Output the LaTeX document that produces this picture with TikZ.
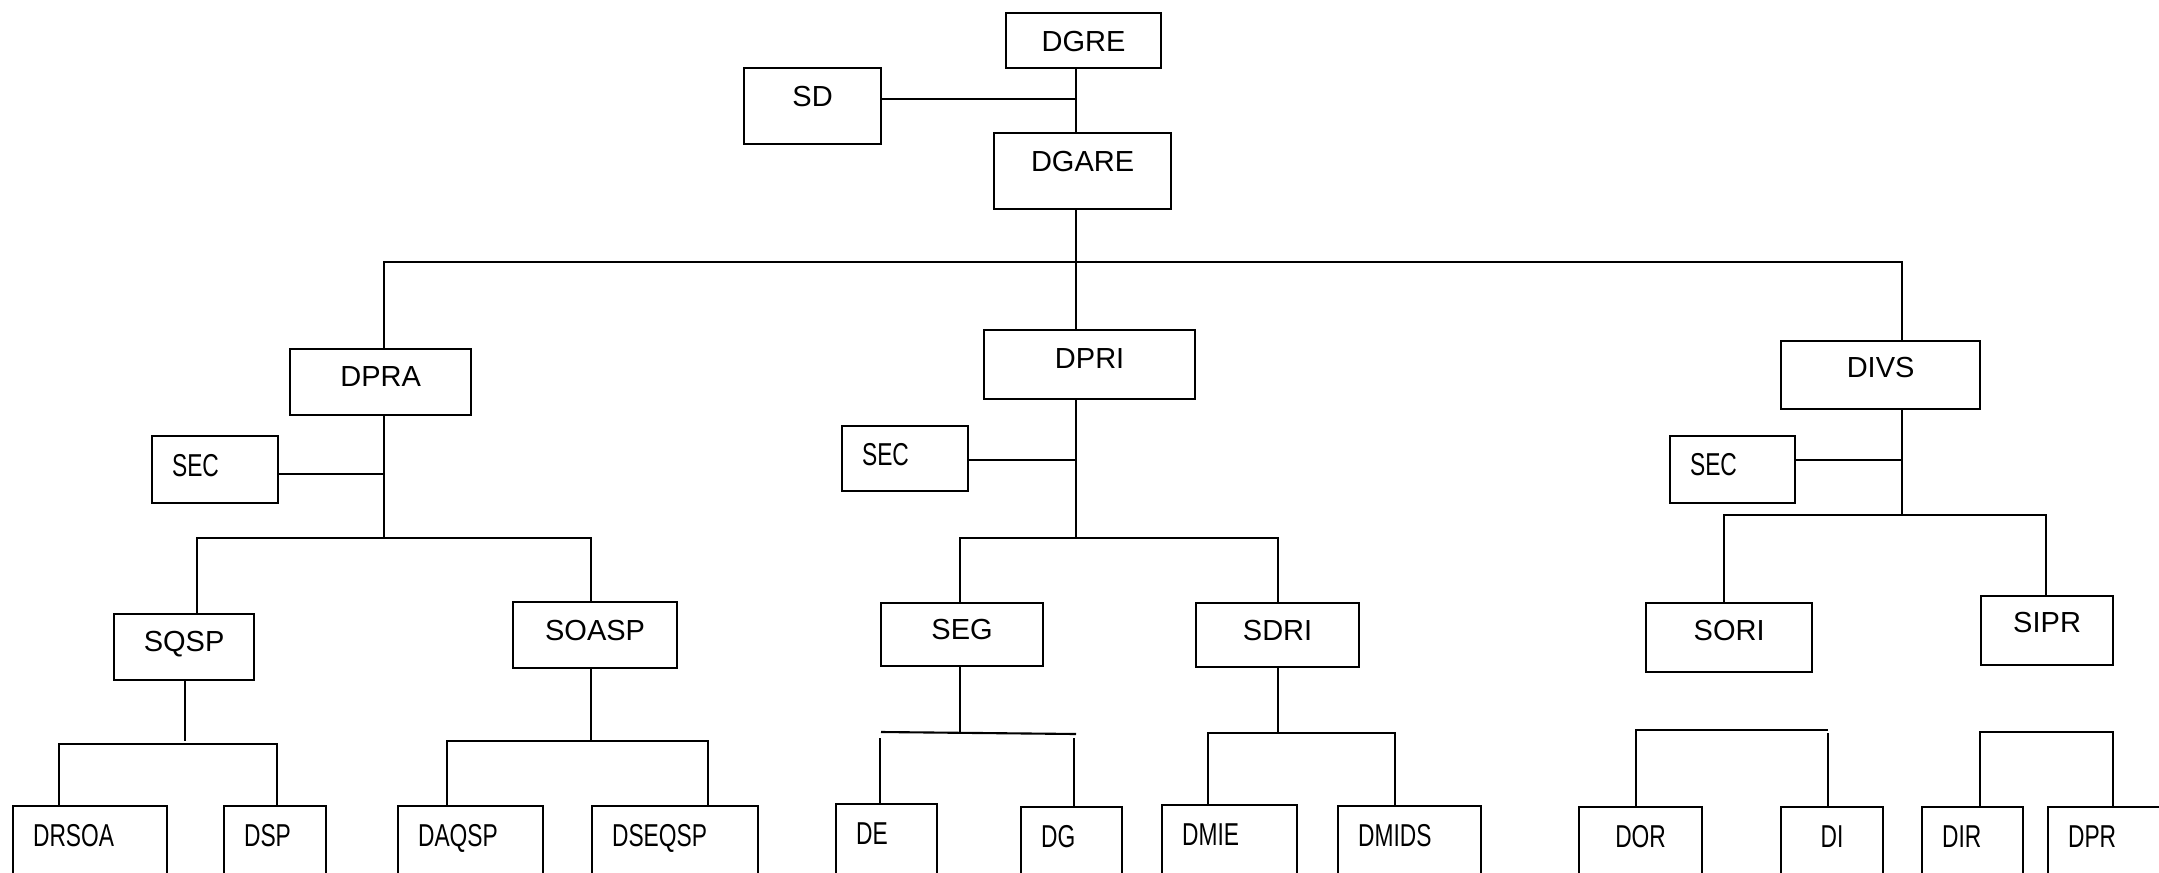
\documentclass[tikz,border=0pt]{standalone}
\usepackage{fontspec}
\setmainfont{Liberation Sans}
\newfontfamily\narrowfont[FakeStretch=0.72]{Liberation Sans}

\begin{document}
\begin{tikzpicture}[x=0.01cm, y=-0.01cm,
		unitbox/.style={draw, line width=0.6pt, anchor=north west, inner sep=0pt, text height=0.21cm, font=\fontsize{8.25}{10}\selectfont},
		secbox/.style={draw, line width=0.6pt, anchor=north west, inner ysep=0pt, inner xsep=0.2cm, align=left, text height=0.22cm, font=\narrowfont\fontsize{9}{11}\selectfont},
		leafbox/.style={secbox, text height=0.40cm, text depth=0.60cm},
		link/.style={line width=0.6pt}]
				\useasboundingbox (0,0) rectangle (2159,872);
				\clip (0,0) rectangle (2159,872);
				
				% direction
				\node[unitbox, text depth=0cm, minimum width=1.55cm, minimum height=0.55cm] (dgre) at (1005,12) {DGRE};
				\node[unitbox, text depth=0.20cm, minimum width=1.37cm, minimum height=0.76cm] (sd) at (743,67) {SD};
				\node[unitbox, text depth=0.20cm, minimum width=1.77cm, minimum height=0.76cm] (dgare) at (993,132) {DGARE};
				
				\node[unitbox, text depth=0.12cm, minimum width=1.81cm, minimum height=0.66cm] (dpra) at (289,348) {DPRA};
				\node[unitbox, text depth=0.13cm, minimum width=2.11cm, minimum height=0.69cm] (dpri) at (983,329) {DPRI};
				\node[unitbox, text depth=0.16cm, minimum width=1.99cm, minimum height=0.68cm] (divs) at (1780,340) {DIVS};
				
				\node[secbox, text depth=0.09cm, text width=0.86cm, minimum height=0.67cm] (seca) at (151,435) {SEC};
				\node[secbox, text depth=0.08cm, text width=0.86cm, minimum height=0.65cm] (secb) at (841,425) {SEC};
				\node[secbox, text depth=0.10cm, text width=0.85cm, minimum height=0.67cm] (secc) at (1669,435) {SEC};
				
				% services
				\node[unitbox, text depth=0.12cm, minimum width=1.40cm, minimum height=0.66cm] (sqsp) at (113,613) {SQSP};
				\node[unitbox, text depth=0.10cm, minimum width=1.64cm, minimum height=0.66cm] (soasp) at (512,601) {SOASP};
				\node[unitbox, text depth=0.11cm, minimum width=1.62cm, minimum height=0.63cm] (seg) at (880,602) {SEG};
				\node[unitbox, text depth=0.10cm, minimum width=1.63cm, minimum height=0.64cm] (sdri) at (1195,602) {SDRI};
				\node[unitbox, text depth=0.15cm, minimum width=1.66cm, minimum height=0.69cm] (sori) at (1645,602) {SORI};
				\node[unitbox, text depth=0.17cm, minimum width=1.32cm, minimum height=0.69cm] (sipr) at (1980,595) {SIPR};
				
				% divisions
				\node[leafbox, text width=1.14cm] (drsoa) at (12,805) {DRSOA};
				\node[leafbox, text width=0.62cm] (dsp) at (223,805) {DSP};
				\node[leafbox, text width=1.05cm] (daqsp) at (397,805) {DAQSP};
				\node[leafbox, text width=1.26cm] (dseqsp) at (591,805) {DSEQSP};
				\node[leafbox, text width=0.61cm] (de) at (835,803) {DE};
				\node[leafbox, text width=0.61cm] (dg) at (1020,806) {DG};
				\node[leafbox, text width=0.95cm] (dmie) at (1161,804) {DMIE};
				\node[leafbox, text width=1.03cm] (dmids) at (1337,805) {DMIDS};
				\node[leafbox, text width=0.83cm, align=center] (dor) at (1578,806) {DOR};
				\node[leafbox, text width=0.62cm, align=center] (di) at (1780,806) {DI};
				\node[leafbox, text width=0.61cm] (dir) at (1921,806) {DIR};
				\node[leafbox, text width=1.13cm] (dpr) at (2047,806) {DPR};
				
				% top links
				\coordinate (topj) at (1076,99);
				\draw[link] (dgre.south -| topj) -- (dgare.north -| topj);
				\draw[link] (sd.east |- topj) -- (topj);
				
				\coordinate (barl) at (384,262);
				\coordinate (barm) at (1076,262);
				\coordinate (barr) at (1902,262);
				\draw[link] (dgare.south -| barm) -- (dpri.north -| barm);
				\draw[link] (dpra.north -| barl) -- (barl) -- (barr) -- (divs.north -| barr);
				
				% DPRA branch
				\coordinate (praj) at (384,538);
				\coordinate (prasec) at (384,474);
				\draw[link] (dpra.south -| praj) -- (praj);
				\draw[link] (seca.east |- prasec) -- (prasec);
				\draw[link] (sqsp.north -| 197,0) -- (197,538) -- (591,538) -- (soasp.north -| 591,0);
				\draw[link] (sqsp.south -| 185,0) -- (185,741);
				\draw[link] (drsoa.north -| 59,0) -- (59,744) -- (277,744) -- (dsp.north -| 277,0);
				\draw[link] (soasp.south -| 591,0) -- (591,741);
				\draw[link] (daqsp.north -| 447,0) -- (447,741) -- (708,741) -- (dseqsp.north -| 708,0);
				
				% DPRI branch
				\coordinate (prij) at (1076,538);
				\coordinate (prisec) at (1076,460);
				\draw[link] (dpri.south -| prij) -- (prij);
				\draw[link] (secb.east |- prisec) -- (prisec);
				\draw[link] (seg.north -| 960,0) -- (960,538) -- (1278,538) -- (sdri.north -| 1278,0);
				\draw[link] (seg.south -| 960,0) -- (960,732);
				\draw[link] (881,732) -- (1076,734);
				\draw[link] (880,738) -- (de.north -| 880,0);
				\draw[link] (1074,738) -- (dg.north -| 1074,0);
				\draw[link] (sdri.south -| 1278,0) -- (1278,733);
				\draw[link] (dmie.north -| 1208,0) -- (1208,733) -- (1395,733) -- (dmids.north -| 1395,0);
				
				% DIVS branch
				\coordinate (ivsj) at (1902,515);
				\coordinate (ivssec) at (1902,460);
				\draw[link] (divs.south -| ivsj) -- (ivsj);
				\draw[link] (secc.east |- ivssec) -- (ivssec);
				\draw[link] (sori.north -| 1724,0) -- (1724,515) -- (2046,515) -- (sipr.north -| 2046,0);
				\draw[link] (dor.north -| 1636,0) -- (1636,730) -- (1828,730);
				\draw[link] (1828,733) -- (di.north -| 1828,0);
				\draw[link] (dir.north -| 1980,0) -- (1980,732) -- (2113,732) -- (dpr.north -| 2113,0);
			\end{tikzpicture}
\end{document}
